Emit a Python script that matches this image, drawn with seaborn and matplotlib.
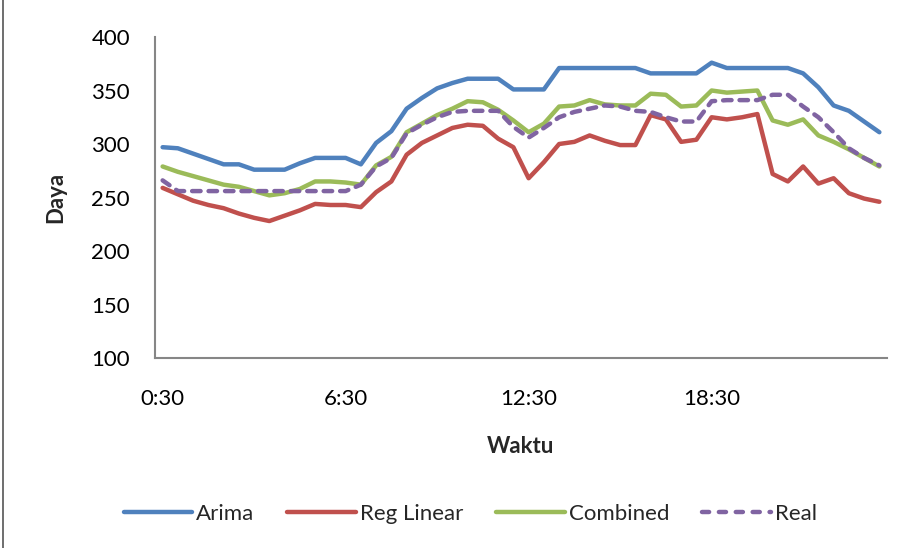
import matplotlib
matplotlib.use("Agg")
import matplotlib.pyplot as plt
import seaborn as sns
import pandas as pd
from matplotlib.lines import Line2D

# Half-hourly time slots 0:30 ... 24:00
waktu = [f"{(m // 60)}:{m % 60:02d}" for m in range(30, 24 * 60 + 1, 30)]

arima = [297, 296, 291, 286, 281, 281, 276, 276, 276, 282, 287, 287, 287, 281,
         301, 312, 333, 343, 352, 357, 361, 361, 361, 351, 351, 351,
         371, 371, 371, 371, 371, 371, 366, 366, 366, 366, 376,
         371, 371, 371, 371, 371, 366, 353, 336, 331, 321, 311]

reg_linear = [259, 253, 247, 243, 240, 235, 231, 228, 233, 238, 244, 243, 243, 241, 255, 265,
              290, 301, 308, 315, 318, 317, 305, 297,
              268, 283, 300, 302, 308, 303, 299, 299,
              327, 323, 302, 304, 325, 323, 325, 328,
              272, 265, 279, 263, 268, 254, 249, 246]

combined = [279, 274, 270, 266, 262, 260, 256, 252, 254, 258, 265, 265, 264, 262, 280, 288,
            311, 319, 327, 333, 340, 339, 332, 322,
            311, 319, 335, 336, 341, 337, 336, 336,
            347, 346, 335, 336, 350, 348, 349, 350,
            322, 318, 323, 308, 302, 295, 287, 279]

real = [266, 256, 256, 256, 256, 256, 256, 256, 256, 256, 256, 256, 256, 262, 279, 287,
        310, 318, 325, 330, 331, 331, 331, 316,
        306, 315, 325, 330, 333, 336, 335, 331,
        330, 325, 321, 321, 340, 341, 341, 341,
        346, 346, 335, 325, 311, 296, 287, 280]

series_names = ["Arima", "Reg Linear", "Combined", "Real"]
series_values = [arima, reg_linear, combined, real]
colors = ["#4F81BD", "#C0504D", "#9BBB59", "#8064A2"]
tick_labels = ["0:30", "6:30", "12:30", "18:30"]
y_ticks = [100, 150, 200, 250, 300, 350, 400]

sns.set_theme(style="white")
plt.rcParams["font.family"] = ["Lato", "DejaVu Sans"]

frames = []
for name, vals in zip(series_names, series_values):
    frames.append(pd.DataFrame({"idx": range(len(waktu)), "Waktu": waktu,
                                "Daya": vals, "Seri": name}))
df = pd.concat(frames, ignore_index=True)

fig = plt.figure(figsize=(9.04, 5.48), dpi=100)
ax = fig.add_axes([155 / 904, 1 - 358 / 548, (887 - 155) / 904, (358 - 37) / 548])

lw = 3.2
real_dashes = (1.9, 1.8)
for name, color in zip(series_names, colors):
    sub = df[df["Seri"] == name]
    sns.lineplot(data=sub, x="idx", y="Daya", ax=ax, color=color, lw=lw,
                 legend=False, solid_capstyle="round", dash_capstyle="round")
    if name == "Real":
        ax.lines[-1].set_dashes(real_dashes)

fs = 16
ax.set_xlim(-0.5, len(waktu) - 0.5)
ax.set_ylim(100, 400)
ax.set_yticks(y_ticks)
ax.set_yticklabels([str(v) for v in y_ticks], fontsize=fs)
pos = [waktu.index(t) for t in tick_labels]
ax.set_xticks(pos)
ax.set_xticklabels(tick_labels, fontsize=fs)
ax.tick_params(axis="x", length=0, pad=22, colors="black")
ax.tick_params(axis="y", length=0, pad=18, colors="black")

for s in ["top", "right"]:
    ax.spines[s].set_visible(False)
for s in ["left", "bottom"]:
    ax.spines[s].set_color("#868686")
    ax.spines[s].set_linewidth(1.5)

ax.set_xlabel("Waktu", fontsize=fs, fontweight="bold", labelpad=20)
ax.set_ylabel("Daya", fontsize=fs, fontweight="bold", labelpad=18)
ax.grid(False)

handles = []
for name, color in zip(series_names, colors):
    h = Line2D([0], [0], color=color, lw=lw, solid_capstyle="round",
               dash_capstyle="round")
    if name == "Real":
        h.set_dashes((1.6, 2.2))
    handles.append(h)

fig.legend(handles, series_names, loc="center", bbox_to_anchor=(0.52, 1 - 514 / 548),
           ncol=4, frameon=False, fontsize=fs, handlelength=3.1,
           handletextpad=0.15, columnspacing=1.5)

fig.add_artist(Line2D([0.003, 0.003], [0, 1], color="#555555", lw=1.2,
                      transform=fig.transFigure))

fig.savefig("out.png", dpi=100, facecolor="white")
